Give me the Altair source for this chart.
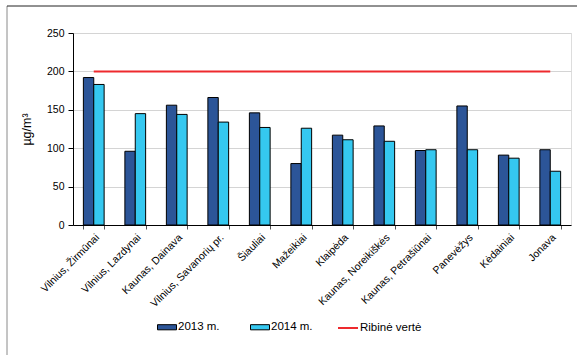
import altair as alt
import pandas as pd

categories = ["Vilnius, Žirmūnai", "Vilnius, Lazdynai", "Kaunas, Dainava",
              "Vilnius, Savanorių pr.", "Šiauliai", "Mažeikiai", "Klaipėda",
              "Kaunas, Noreikiškės", "Kaunas, Petrašiūnai", "Panevėžys",
              "Kėdainiai", "Jonava"]
values_2013 = [192, 96, 156, 166, 146, 80, 117, 129, 97, 155, 91, 98]
values_2014 = [183, 145, 144, 134, 127, 126, 111, 109, 98, 98, 87, 70]
limit_values = [200, 200, 200, 200, 200, 200, 200, 200, 200, 200, 200, 200]
series_names = ["2013 m.", "2014 m."]
limit_name = "Ribinė vertė"
y_ticks = [0, 50, 100, 150, 200, 250]

rows = []
for c, a, b in zip(categories, values_2013, values_2014):
    rows.append({"category": c, "series": series_names[0], "value": a})
    rows.append({"category": c, "series": series_names[1], "value": b})
bars_df = pd.DataFrame(rows)
limit_df = pd.DataFrame({"category": categories, "series": [limit_name] * len(categories),
                         "value": limit_values})

FONT = "Liberation Sans"

x_axis = alt.Axis(title=None, labelAngle=-45, labelAlign="right",
                  labelBaseline="top", labelFontSize=10.5,
                  labelPadding=3, tickSize=4, tickBand="extent",
                  grid=False, labelColor="#000", tickColor="#555",
                  domainColor="#000")
x_scale = alt.Scale(paddingInner=0.5, paddingOuter=0.25)

y_axis = alt.Axis(title="µg/m³", values=y_ticks, labelOverlap=False,
                  labelFontSize=10.5, labelPadding=4, tickSize=5,
                  grid=True, gridColor="#d4d4d4", domainColor="#000",
                  tickColor="#000", labelColor="#000",
                  titleFontSize=12.5, titleFontWeight="normal",
                  titleColor="#000", titleX=-40, titleY=96)
y_scale = alt.Scale(domain=[0, 250], nice=False)

bars = alt.Chart(bars_df).mark_bar(stroke="black", strokeWidth=1).encode(
    x=alt.X("category:N", sort=categories, scale=x_scale, axis=x_axis),
    xOffset=alt.XOffset("series:N", sort=series_names,
                        scale=alt.Scale(paddingInner=0, paddingOuter=0)),
    y=alt.Y("value:Q", scale=y_scale, axis=y_axis),
    fill=alt.Fill("series:N", sort=series_names,
                  scale=alt.Scale(domain=series_names, range=["#2C5598", "#35C8F0"]),
                  legend=alt.Legend(title=None, orient="none", direction="horizontal",
                                    legendX=84, legendY=284,
                                    symbolType="M-1,-0.27H1V0.27H-1Z",
                                    symbolSize=361, symbolStrokeColor="black",
                                    symbolStrokeWidth=1, labelFontSize=11.5,
                                    labelOffset=1, columnPadding=28,
                                    labelColor="#000")),
)

line = alt.Chart(limit_df).mark_line(strokeWidth=2).encode(
    x=alt.X("category:N", sort=categories, scale=x_scale, axis=x_axis),
    y=alt.Y("value:Q", scale=y_scale, axis=y_axis),
    stroke=alt.Stroke("series:N",
                      scale=alt.Scale(domain=[limit_name], range=["#EE2A2E"]),
                      legend=alt.Legend(title=None, orient="none",
                                        legendX=264, legendY=284,
                                        symbolType="stroke", symbolSize=400,
                                        symbolStrokeWidth=2, labelFontSize=11.5,
                                        labelOffset=1, labelColor="#000")),
)

frame_df = pd.DataFrame({"k": [0]})
frame_left = alt.Chart(frame_df).mark_rule(color="#8a8a8a", strokeWidth=1).encode(
    x=alt.value(-66), y=alt.value(-27), y2=alt.value(400))
frame_top = alt.Chart(frame_df).mark_rule(color="#222", strokeWidth=1).encode(
    x=alt.value(-66), x2=alt.value(600), y=alt.value(-27))

chart = alt.layer(bars, line, frame_left, frame_top).properties(
    width=498, height=192,
    autosize=alt.AutoSizeParams(type="none"),
    padding={"left": 73, "top": 33, "right": 6, "bottom": 130},
    background="white",
).configure_view(stroke="#444", strokeWidth=1).configure(
    font=FONT
).configure_axis(labelFont=FONT, titleFont=FONT).configure_legend(labelFont=FONT)

chart.save("out.html", embed_options={"renderer": "svg", "actions": False})
